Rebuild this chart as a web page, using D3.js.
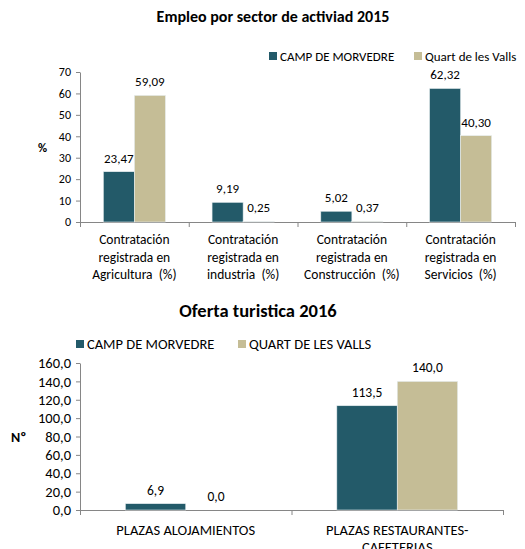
<!DOCTYPE html>
<html>
<head>
<meta charset="utf-8">
<script src="https://cdn.jsdelivr.net/npm/d3@7"></script>
<style>
  body { margin: 0; background: #fff; }
  text { font-family: Carlito, Lato, sans-serif; fill: #000; white-space: pre; }
</style>
</head>
<body>
<div id="chart"></div>
<script>
// data, chart 1 (employment by sector 2015)
const sectorLabels = [
    ["Contratación", "registrada en", "Agricultura  (%)"],
    ["Contratación", "registrada en", "industria  (%)"],
    ["Contratación", "registrada en", "Construcción  (%)"],
    ["Contratación", "registrada en", "Servicios  (%)"]
];
const sectorSeries = ["CAMP DE MORVEDRE", "Quart de les Valls"];
const campSector = [23.47, 9.19, 5.02, 62.32];
const quartSector = [59.09, 0.25, 0.37, 40.30];
const sectorTicks = [0, 10, 20, 30, 40, 50, 60, 70];

// data, chart 2 (tourism offer 2016)
const tourLabels = [["PLAZAS ALOJAMIENTOS"], ["PLAZAS RESTAURANTES-", "CAFETERIAS"]];
const tourSeries = ["CAMP DE MORVEDRE", "QUART DE LES VALLS"];
const campTour = [6.9, 113.5];
const quartTour = [0.0, 140.0];
const tourTicks = [0, 20, 40, 60, 80, 100, 120, 140, 160];

const colors = ["#235a69", "#c5bd96"];
const axisColor = "#868686";

const loc = d3.formatLocale({ decimal: ",", thousands: ".", grouping: [3], currency: ["", ""] });

const svg = d3.select("#chart").append("svg")
    .attr("width", 525)
    .attr("height", 549);

function drawChart(opt) {
    var n = opt.labels.length;
    var g = svg.append("g");
    var fmt = loc.format(opt.fmt);

    var x = d3.scaleBand()
        .domain(d3.range(n))
        .range([opt.left, opt.right])
        .padding(0);
    var xs = d3.scaleBand()
        .domain([0, 1])
        .range([0, x.bandwidth()])
        .paddingInner(0)
        .paddingOuter(0.75);
    var y = d3.scaleLinear()
        .domain([0, d3.max(opt.ticks)])
        .range([opt.bottom, opt.top]);

    // title
    g.append("text")
        .attr("x", opt.titleX).attr("y", opt.titleY)
        .attr("text-anchor", "middle")
        .style("font-weight", "bold")
        .style("font-size", opt.titleSize)
        .text(opt.title);

    // y axis
    var ya = g.append("g")
        .attr("transform", "translate(" + opt.left + ",0)")
        .call(d3.axisLeft(y).tickValues(opt.ticks).tickSize(4).tickSizeOuter(0).tickPadding(5).tickFormat(loc.format(opt.tickFmt)));
    ya.selectAll("path, line").attr("stroke", axisColor);
    ya.selectAll("text").style("font-size", opt.tickSize).style("font-family", "Carlito, Lato, sans-serif").attr("fill", "#000");

    g.append("text")
        .attr("x", opt.unitX).attr("y", y((opt.ticks[0] + d3.max(opt.ticks)) / 2) + 5)
        .style("font-weight", "bold")
        .style("font-size", opt.unitSize)
        .text(opt.unit);

    // x axis with ticks on category boundaries
    var xb = d3.scaleLinear().domain([0, n]).range([opt.left, opt.right]);
    var xa = g.append("g")
        .attr("transform", "translate(0," + opt.bottom + ")")
        .call(d3.axisBottom(xb).tickValues(d3.range(n + 1)).tickSize(5).tickSizeOuter(0).tickFormat(""));
    xa.selectAll("path, line").attr("stroke", axisColor);

    // category labels
    opt.labels.forEach(function (lines, i) {
        var t = g.append("text")
            .attr("text-anchor", "middle")
            .style("font-size", opt.catSize);
        lines.forEach(function (l, j) {
            t.append("tspan")
                .attr("x", x(i) + x.bandwidth() / 2)
                .attr("y", opt.bottom + opt.catY + j * opt.catLine)
                .text(l);
        });
    });

    // bars and value labels
    [opt.a, opt.b].forEach(function (vals, s) {
        g.selectAll(".bar" + s)
            .data(vals)
            .enter()
            .append("rect")
            .attr("x", function (d, i) { return x(i) + xs(s); })
            .attr("y", function (d) { return y(d); })
            .attr("width", xs.bandwidth())
            .attr("height", function (d) { return opt.bottom - y(d); })
            .style("fill", colors[s])
            .style("stroke", "#e8eef0")
            .style("stroke-width", 0.6);

        g.selectAll(".lab" + s)
            .data(vals)
            .enter()
            .append("text")
            .attr("x", function (d, i) { return x(i) + xs(s) + xs.bandwidth() / 2; })
            .attr("y", function (d) { return y(d) - 9; })
            .attr("text-anchor", "middle")
            .style("font-size", opt.valSize)
            .text(function (d) { return fmt(d); });
    });

    // legend
    opt.series.forEach(function (name, s) {
        g.append("rect")
            .attr("x", opt.legX[s]).attr("y", opt.legY - 4)
            .attr("width", 8).attr("height", 8)
            .style("fill", colors[s]);
        g.append("text")
            .attr("x", opt.legX[s] + 11).attr("y", opt.legY + 4.5)
            .style("font-size", opt.legSize)
            .text(name);
    });
}

drawChart({
    title: "Empleo por sector de activiad 2015", titleX: 273, titleY: 22, titleSize: "16px",
    labels: sectorLabels, series: sectorSeries, a: campSector, b: quartSector,
    ticks: sectorTicks, fmt: ".2f", tickFmt: "d",
    left: 80, right: 515, top: 72, bottom: 222,
    unit: "%", unitX: 38, unitSize: "12.5px",
    tickSize: "12px", catSize: "13.5px", catY: 22, catLine: 17.5, valSize: "13px",
    legX: [269, 414], legY: 56, legSize: "13px"
});

drawChart({
    title: "Oferta turistica 2016", titleX: 258, titleY: 317, titleSize: "18.5px",
    labels: tourLabels, series: tourSeries, a: campTour, b: quartTour,
    ticks: tourTicks, fmt: ".1f", tickFmt: ".1f",
    left: 80, right: 503, top: 363, bottom: 510,
    unit: "Nº", unitX: 11, unitSize: "14px",
    tickSize: "14.5px", catSize: "14.5px", catY: 25, catLine: 17, valSize: "13.5px",
    legX: [76, 238], legY: 344, legSize: "14.5px"
});
</script>
</body>
</html>
